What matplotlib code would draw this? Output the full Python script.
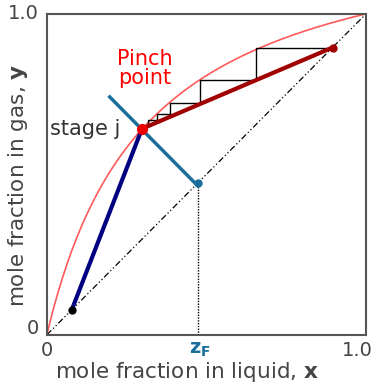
import numpy as np
import matplotlib.pyplot as plt

# relative volatility of the equilibrium curve
alpha = 4.2

# key compositions
x_dist = 0.895
x_bot = 0.078
z_feed = 0.473
pinch = (0.298, 0.642)
q_line_x = [0.197, 0.473]
q_line_y = [0.741, 0.464]

# staircase corners
step_x = [0.895, 0.655, 0.480, 0.386, 0.345, 0.317]
step_y = [0.895, 0.795, 0.722, 0.687, 0.669, 0.657]

fig = plt.figure(figsize=(3.72, 3.84), dpi=100)
ax = fig.add_axes([0.126, 0.128, 0.858, 0.836])

xx = np.linspace(0, 1, 200)
ax.plot(xx, alpha * xx / (1 + (alpha - 1) * xx), color='#ff5a5a', lw=1.2, zorder=2)

# diagonal
ax.plot([0, 1], [0, 1], color='black', lw=0.9, dashes=[5, 2, 1, 2, 1, 2], zorder=1)

# stairs
sx, sy = [step_x[0]], [step_y[0]]
for i in range(1, len(step_x)):
    sx += [step_x[i], step_x[i]]
    sy += [step_y[i - 1], step_y[i]]
ax.plot(sx, sy, color='black', lw=1.0, zorder=3)

# operating lines
ax.plot([pinch[0], x_dist], [pinch[1], x_dist], color='#a00000', lw=3, zorder=4)
ax.plot([x_bot, pinch[0]], [x_bot, pinch[1]], color='#000080', lw=3, zorder=4)
ax.plot(q_line_x, q_line_y, color='#1a6e9c', lw=2.5, zorder=3)
ax.plot([z_feed, z_feed], [0, z_feed], color='black', lw=1, ls=(0, (1, 1)), zorder=1)

ax.plot(x_dist, x_dist, 'o', color='#a00000', ms=5, zorder=5)
ax.plot(x_bot, x_bot, 'o', color='black', ms=5, zorder=5)
ax.plot(z_feed, z_feed, 'o', color='#1a6e9c', ms=5, zorder=5)
ax.plot(*pinch, 'o', color='#ee0000', ms=7, zorder=5)

ax.text(0.307, 0.83, 'Pinch\npoint', color='red', fontsize=15, ha='center', va='center', linespacing=0.95)
ax.text(0.01, 0.642, 'stage j', color='#333333', fontsize=15, ha='left', va='center')

ax.set_xlim(0, 1)
ax.set_ylim(0, 1)
ax.set_xticks([])
ax.set_yticks([])
for s in ax.spines.values():
    s.set_color('#555555')
    s.set_linewidth(1.5)

gray = '#444444'
ax.text(0, -0.02, '0', color=gray, fontsize=14, ha='center', va='top')
ax.text(-0.025, 0.02, '0', color=gray, fontsize=14, ha='right', va='center')
ax.text(-0.025, 1.0, '1.0', color=gray, fontsize=14, ha='right', va='center')
ax.text(1.02, -0.02, '1.0', color=gray, fontsize=14, ha='right', va='top')
ax.text(z_feed + 0.005, -0.015, r'$\mathbf{z_F}$', color='#1a6e9c', fontsize=14, ha='center', va='top')

ax.text(0.44, -0.117, r'mole fraction in liquid, $\mathbf{x}$', color=gray, fontsize=15.5,
        ha='center', va='center')
ax.text(-0.091, 0.467, r'mole fraction in gas, $\mathbf{y}$', color=gray, fontsize=15.5,
        ha='center', va='center', rotation=90, rotation_mode='anchor')

fig.savefig('out.png', dpi=100)
